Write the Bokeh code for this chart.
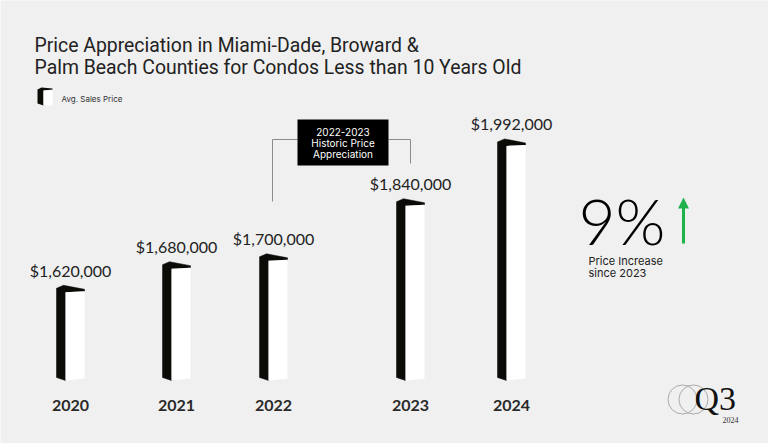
from bokeh.plotting import figure
from bokeh.models import Range1d
from bokeh.core.properties import value
from bokeh.embed import file_html
from bokeh.resources import INLINE

# ---------------- data ----------------
years = ["2020", "2021", "2022", "2023", "2024"]
avg_price = [1620000, 1680000, 1700000, 1840000, 1992000]
price_labels = ["${:,.0f}".format(v) for v in avg_price]
title_lines = ["Price Appreciation in Miami-Dade, Broward &",
               "Palm Beach Counties for Condos Less than 10 Years Old"]
legend_label = "Avg. Sales Price"
callout_lines = ["2022-2023", "Historic Price", "Appreciation"]
increase_pct = "9%"
increase_caption = ["Price Increase", "since 2023"]
logo_main = "Q3"
logo_year = "2024"

# ---------------- layout ----------------
W, H = 768, 443
BG = "#f0f0f0"
INK = "#222222"
bar_x = [70, 176, 273, 410, 511]          # horizontal bar centres (px)
BASE_PX = 379                              # baseline of bars (px from top)
PX_PER_DOLLAR = 393.5e-6
BASE_VALUE = 1395900                       # price at the baseline
price_start = BASE_VALUE - (H - BASE_PX) / PX_PER_DOLLAR
price_end = BASE_VALUE + BASE_PX / PX_PER_DOLLAR
d = 1.0 / PX_PER_DOLLAR                    # dollars per pixel

p = figure(width=W, height=H, x_range=Range1d(0, W), y_range=Range1d(H, 0),
           output_backend="svg", toolbar_location=None, min_border=0,
           x_axis_location=None, y_axis_location=None,
           background_fill_color=BG, border_fill_color=BG, outline_line_color=None)
p.grid.visible = False
p.extra_y_ranges = {"price": Range1d(price_start, price_end)}

# ---------------- bars (3D style) ----------------
side_xs, side_ys, front_xs, front_ys = [], [], [], []
for xc, v in zip(bar_x, avg_price):
    xs0, xf0, xf1 = xc - 14, xc - 5, xc + 14
    side_xs.append([xs0, xs0 + 7, xf1, xf1, xf0, xf0, xs0])
    side_ys.append([v + 3 * d, v + 6 * d, v + 2 * d, v, v - 1 * d,
                    BASE_VALUE - 1 * d, BASE_VALUE + 2 * d])
    front_xs.append([xf0, xf1, xf1, xf0])
    front_ys.append([v - 1 * d, v, BASE_VALUE + 1 * d, BASE_VALUE - 1 * d])

p.patches(side_xs, side_ys, fill_color="#0b0b08", line_color="#0b0b08",
          line_width=0.5, y_range_name="price")
p.patches(front_xs, front_ys, fill_color="#ffffff", line_color=None,
          y_range_name="price")

# value labels
p.text(x=bar_x, y=avg_price, text=price_labels, y_range_name="price",
       y_offset=-21, text_align="center", text_baseline="middle",
       text_font=value("Lato"), text_font_size="16px", text_color=INK)

# year labels
p.text(x=bar_x, y=[405] * len(years), text=years, text_align="center",
       text_baseline="middle", text_font=value("Lato"), text_font_style="bold",
       text_font_size="16px", text_color="#2a2a2a")

# ---------------- title ----------------
p.text(x=[34, 34], y=[45, 67], text=title_lines, text_align="left",
       text_baseline="middle", text_font=value("Roboto"),
       text_font_size="19.4px", text_color=INK)

# ---------------- legend ----------------
p.patch([37, 41, 52, 52, 43, 43, 37], [89, 87, 88, 89, 90, 105, 103],
        fill_color="#0b0b08", line_color=None)
p.quad(left=[43], right=[52], top=[90], bottom=[105], fill_color="#ffffff",
       line_color=None)
p.text(x=[61], y=[98], text=[legend_label], text_baseline="middle",
       text_font=value("Inter"), text_font_size="8px", text_color="#333333")

# ---------------- callout ----------------
p.line([272, 272, 297], [201, 139, 139], line_color="#8c8c8c", line_width=1)
p.line([388, 410, 410], [139, 139, 163], line_color="#8c8c8c", line_width=1)
p.quad(left=[297], right=[388], top=[119], bottom=[165], fill_color="#000000",
       line_color=None)
p.text(x=[342.5] * 3, y=[131, 142, 153], text=callout_lines, text_align="center",
       text_baseline="middle", text_font=value("Inter"), text_font_size="10px",
       text_color="#ffffff")

# ---------------- 9% block ----------------
p.text(x=[578], y=[220], text=[increase_pct], text_baseline="middle",
       text_font=value("'Lato Light', Lato"), text_font_size="64px",
       text_color="#000000")
p.line([683, 683], [243, 206], line_color="#1fb24a", line_width=3)
p.patch([677.5, 688.5, 683], [208, 208, 197], fill_color="#1fb24a",
        line_color=None)
p.text(x=[588, 588], y=[260, 272], text=increase_caption,
       text_baseline="middle", text_font=value("Inter"), text_font_size="11px",
       text_color=INK)

# ---------------- logo ----------------
p.circle(x=[682, 693], y=[399, 399], radius=14.5, fill_color=None,
         line_color="#aaaaaa", line_width=1)
p.text(x=[694], y=[398], text=[logo_main], text_baseline="middle",
       text_font=value("Liberation Serif"), text_font_size="34px",
       text_color="#111111")
p.text(x=[722], y=[419], text=[logo_year], text_baseline="middle",
       text_font=value("Liberation Serif"), text_font_size="8px",
       text_color="#333333")

open("out.html", "w").write(file_html(p, INLINE))
